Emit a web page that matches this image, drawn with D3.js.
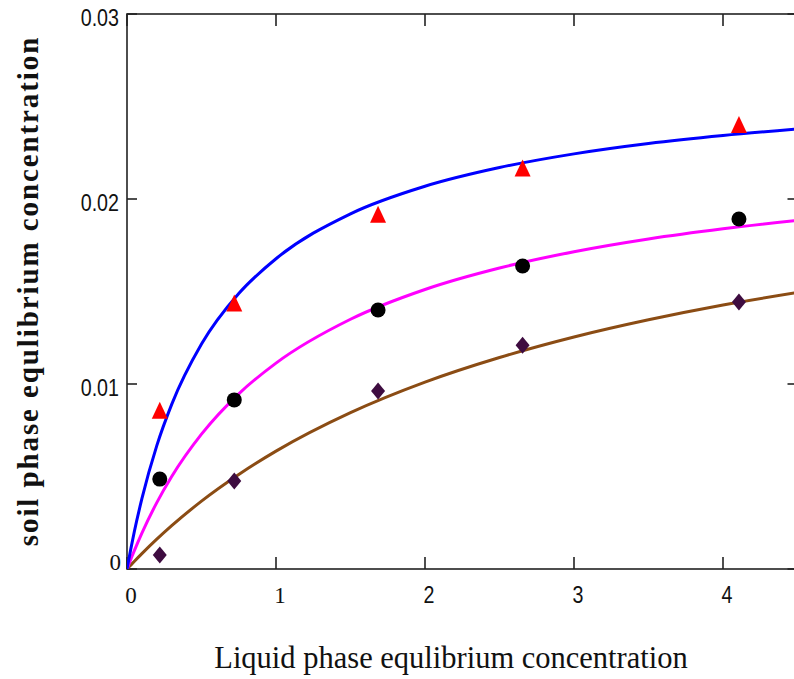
<!DOCTYPE html>
<html><head><meta charset="utf-8">
<script src="https://cdn.jsdelivr.net/npm/d3@7/dist/d3.min.js"></script>
<style>body{margin:0;background:#fff}svg{display:block}</style>
</head><body><svg id="c" width="794" height="679"></svg>
<script>
// ---- data ----
const xTicks = [0, 1, 2, 3, 4];
const yTicks = [0, 0.01, 0.02, 0.03];
const yTickLabels = ["0", "0.01", "0.02", "0.03"];
const xTickLabels = ["0", "1", "2", "3", "4"];

const ptX = [0.22, 0.72, 1.685, 2.655, 4.107];
const triY = [0.0085, 0.0143, 0.0191, 0.0216, 0.02395];
const cirY = [0.00486, 0.00914, 0.0140, 0.01638, 0.01892];
const diaY = [0.00076, 0.00476, 0.00962, 0.0121, 0.01443];

const curveX = [0, 0.025, 0.05, 0.1, 0.2, 0.3, 0.5, 0.75, 1, 1.5, 2, 2.5, 3, 3.5, 4, 4.5];
const blueY = [0, 0.00106, 0.00205, 0.0038, 0.00667, 0.0089, 0.01216, 0.01489, 0.01677, 0.0192, 0.02069, 0.0217, 0.02244, 0.0230, 0.02343, 0.02378];
const magentaY = [0, 0.00052, 0.00101, 0.00194, 0.00359, 0.0050, 0.00729, 0.00947, 0.01113, 0.0135, 0.01511, 0.01627, 0.01715, 0.01784, 0.01839, 0.01885];
const brownY = [0, 0.00021, 0.00042, 0.00083, 0.00161, 0.00234, 0.00367, 0.00511, 0.00637, 0.00845, 0.0101, 0.01143, 0.01254, 0.01347, 0.01427, 0.01495];

const xTitle = "Liquid phase equlibrium concentration";
const yTitle = "soil phase equlibrium concentration";

// ---- drawing ----
const svg = d3.select("#c");
const L = 127, R = 797.5, T = 14, B = 569;
const x = d3.scaleLinear().domain([0, 4.5]).range([L, R]);
const y = d3.scaleLinear().domain([0, 0.03]).range([B, T]);

svg.append("defs").append("clipPath").attr("id", "clip")
  .append("rect").attr("x", L).attr("y", T).attr("width", R - L).attr("height", B - T);

const axisCol = "#222";
// frame
svg.append("rect").attr("x", L).attr("y", T).attr("width", R - L).attr("height", B - T)
  .attr("fill", "none").attr("stroke", axisCol).attr("stroke-width", 1.6);

// ticks
const g = svg.append("g").attr("stroke", axisCol).attr("stroke-width", 1.6);
xTicks.forEach(t => {
  g.append("line").attr("x1", x(t)).attr("x2", x(t)).attr("y1", B).attr("y2", B - 12);
  g.append("line").attr("x1", x(t)).attr("x2", x(t)).attr("y1", T).attr("y2", T + 12);
});
yTicks.forEach(t => {
  g.append("line").attr("x1", L).attr("x2", L + 10).attr("y1", y(t)).attr("y2", y(t));
  g.append("line").attr("x1", R).attr("x2", R - 10).attr("y1", y(t)).attr("y2", y(t));
});

// tick labels
const sans = "'Liberation Sans', Arial, sans-serif";
const serif = "'Liberation Serif', 'Times New Roman', serif";
xTicks.forEach((t, i) => {
  const isSerif = i < 2;
  svg.append("text")
    .attr("transform", `translate(${x(t) + 4},603) scale(${isSerif ? 1 : 0.82},1)`)
    .attr("text-anchor", "middle")
    .attr("font-family", isSerif ? serif : sans)
    .attr("font-size", isSerif ? "23px" : "24px")
    .attr("fill", "#111").text(xTickLabels[i]);
});
yTicks.forEach((t, i) => {
  const isSerif = i === 0;
  svg.append("text")
    .attr("transform", `translate(${isSerif ? 121 : 119},${isSerif ? y(t) + 1 : y(t) + 12}) scale(${isSerif ? 1 : 0.82},1)`)
    .attr("text-anchor", "end")
    .attr("font-family", isSerif ? serif : sans)
    .attr("font-size", isSerif ? "23px" : "24px")
    .attr("fill", "#111").text(yTickLabels[i]);
});

// axis titles
svg.append("text").attr("x", 451).attr("y", 668).attr("text-anchor", "middle")
  .attr("font-family", serif).attr("font-size", "30.5px").attr("fill", "#111").text(xTitle);
svg.append("text").attr("transform", "translate(38,291) rotate(-90)").attr("text-anchor", "middle")
  .attr("font-family", serif).attr("font-weight", "bold").attr("font-size", "29px")
  .attr("letter-spacing", 1.9).attr("fill", "#111").text(yTitle);

// curves
const plot = svg.append("g").attr("clip-path", "url(#clip)");
const line = d3.line().x(d => x(d[0])).y(d => y(d[1])).curve(d3.curveMonotoneX);
[[brownY, "#8b4c14"], [magentaY, "#ff00ff"], [blueY, "#0000ff"]].forEach(([ys, col]) => {
  plot.append("path").attr("d", line(curveX.map((cx, i) => [cx, ys[i]])))
    .attr("fill", "none").attr("stroke", col).attr("stroke-width", 3);
});

// markers
const mk = svg.append("g");
ptX.forEach((px, i) => {
  const cx = x(px);
  let cy = y(triY[i]);
  mk.append("path").attr("d", `M${cx},${cy - 10}L${cx + 8},${cy + 7}L${cx - 8},${cy + 7}Z`).attr("fill", "#ff0000");
  cy = y(cirY[i]);
  mk.append("circle").attr("cx", cx).attr("cy", cy).attr("r", 7.5).attr("fill", "#000");
  cy = y(diaY[i]);
  mk.append("path").attr("d", `M${cx},${cy - 8.5}L${cx + 7},${cy}L${cx},${cy + 8.5}L${cx - 7},${cy}Z`).attr("fill", "#3e0c40");
});
</script></body></html>
